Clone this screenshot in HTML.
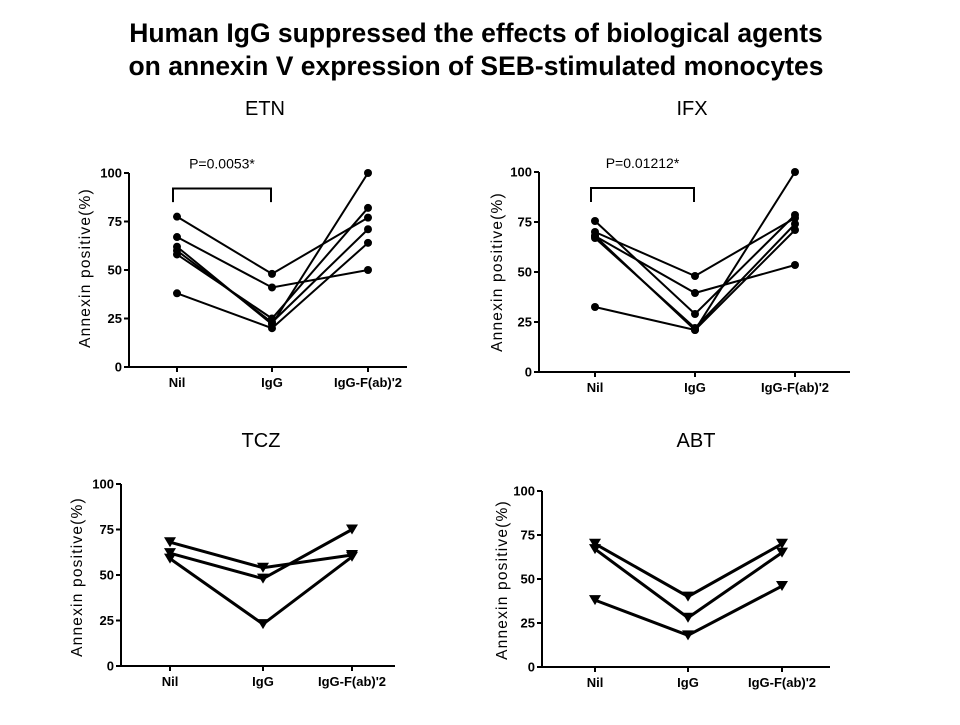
<!DOCTYPE html>
<html><head><meta charset="utf-8"><style>
body{margin:0;background:#fff;width:960px;height:720px;overflow:hidden;font-family:"Liberation Sans",Arial,sans-serif}
</style></head><body>
<svg id="c" width="960" height="720" xmlns="http://www.w3.org/2000/svg">
<text x="476" y="42" text-anchor="middle" font-size="26.5" font-weight="bold">Human IgG suppressed the effects of biological agents</text>
<text x="476" y="75" text-anchor="middle" font-size="26.5" font-weight="bold">on annexin V expression of SEB-stimulated monocytes</text>
</svg>
<script>
const categories = ["Nil","IgG","IgG-F(ab)'2"];
const yTicks = [0,25,50,75,100];
const etnSeries = [[77.5,48,77],[67,41,50],[62,22,100],[58,25,82],[38,20,64],[60,23,71]];
const ifxSeries = [[70,48,77],[68,39.5,53.5],[75.5,29,78.5],[67,22,74],[32.5,21,100],[68,21,71]];
const tczSeries = [[62,48,75],[68,54,61],[59,23,60]];
const abtSeries = [[70,40,70],[67,28,65],[38,18,46]];
const panelNames = ["ETN","IFX","TCZ","ABT"];
const pValues = ["P=0.0053*","P=0.01212*",null,null];

const svg = document.getElementById('c');
const NS = "http://www.w3.org/2000/svg";
function mk(tag, attrs, parent){
  const e = document.createElementNS(NS, tag);
  for (const k in attrs) e.setAttribute(k, attrs[k]);
  (parent||svg).appendChild(e); return e;
}
const layouts = [
 {ax:129,y0:367,y100:173,xs:[177,272,368],xEnd:407,title:[265,115],ytitle:[90,268],marker:'circle',lw:2},
 {ax:539,y0:372,y100:172,xs:[595,695,795],xEnd:850,title:[692,115],ytitle:[502,272],marker:'circle',lw:2},
 {ax:121,y0:666,y100:484,xs:[170,263,352],xEnd:395,title:[261,447],ytitle:[82,577],marker:'tri',lw:3},
 {ax:542,y0:667,y100:491,xs:[595,688,782],xEnd:830,title:[696,447],ytitle:[507,580],marker:'tri',lw:3}
];
const allSeries = [etnSeries, ifxSeries, tczSeries, abtSeries];
layouts.forEach((L, pi) => {
  const g = mk('g', {});
  
  
  const yS = v => L.y0 - (L.y0 - L.y100) * v / 100;
  const t = mk('text', {x:L.title[0], y:L.title[1], 'text-anchor':'middle', 'font-size':20}, g);
  t.textContent = panelNames[pi];
  
  
  const ya = mk('line', {x1:L.ax, x2:L.ax, y1:L.y100, y2:L.y0, stroke:'#000', 'stroke-width':2}, g);
  
  
  const xa = mk('line', {x1:L.ax, x2:L.xEnd, y1:L.y0, y2:L.y0, stroke:'#000', 'stroke-width':2}, g);
  
  
  yTicks.forEach(v => {
    const y = yS(v);
    mk('line', {x1:L.ax-5, x2:L.ax, y1:y, y2:y, stroke:'#000', 'stroke-width':2}, g);
    const tl = mk('text', {x:L.ax-7, y:y+4.5, 'text-anchor':'end', 'font-size':13, 'font-weight':'bold'}, g);
    tl.textContent = v;
    
    
  });
  categories.forEach((c, i) => {
    mk('line', {x1:L.xs[i], x2:L.xs[i], y1:L.y0, y2:L.y0+5, stroke:'#000', 'stroke-width':2}, g);
    const tl = mk('text', {x:L.xs[i], y:L.y0+20, 'text-anchor':'middle', 'font-size':13, 'font-weight':'bold'}, g);
    tl.textContent = c;
    
    
  });
  const yt = mk('text', {x:L.ytitle[0], y:L.ytitle[1], 'text-anchor':'middle', 'font-size':15.5, 'letter-spacing':'1.2', transform:`rotate(-90 ${L.ytitle[0]} ${L.ytitle[1]})`}, g);
  yt.textContent = 'Annexin positive(%)';
  
  
  allSeries[pi].forEach(s => {
    const pts = s.map((v, i) => L.xs[i] + ',' + yS(v)).join(' ');
    const pl = mk('polyline', {points:pts, fill:'none', stroke:'#000', 'stroke-width':L.lw}, g);
    
    
    s.forEach((v, i) => {
      const x = L.xs[i], y = yS(v);
      let m;
      if (L.marker === 'circle') m = mk('circle', {cx:x, cy:y, r:4, fill:'#000'}, g);
      else m = mk('polygon', {points:`${x-6},${y-5} ${x+6},${y-5} ${x},${y+5}`, fill:'#000'}, g);
      
      
    });
  });
  if (pValues[pi]) {
    const x1 = L.xs[0] - 4, x2 = L.xs[1] - 1, yb = yS(92), ye = yS(85);
    const br = mk('polyline', {points:`${x1},${ye} ${x1},${yb} ${x2},${yb} ${x2},${ye}`, fill:'none', stroke:'#000', 'stroke-width':2}, g);
    
    
    const pt = mk('text', {x:(x1+x2)/2, y:yb-20, 'text-anchor':'middle', 'font-size':14}, g);
    pt.textContent = pValues[pi];
    
    
  }
});
</script>
</body></html>
